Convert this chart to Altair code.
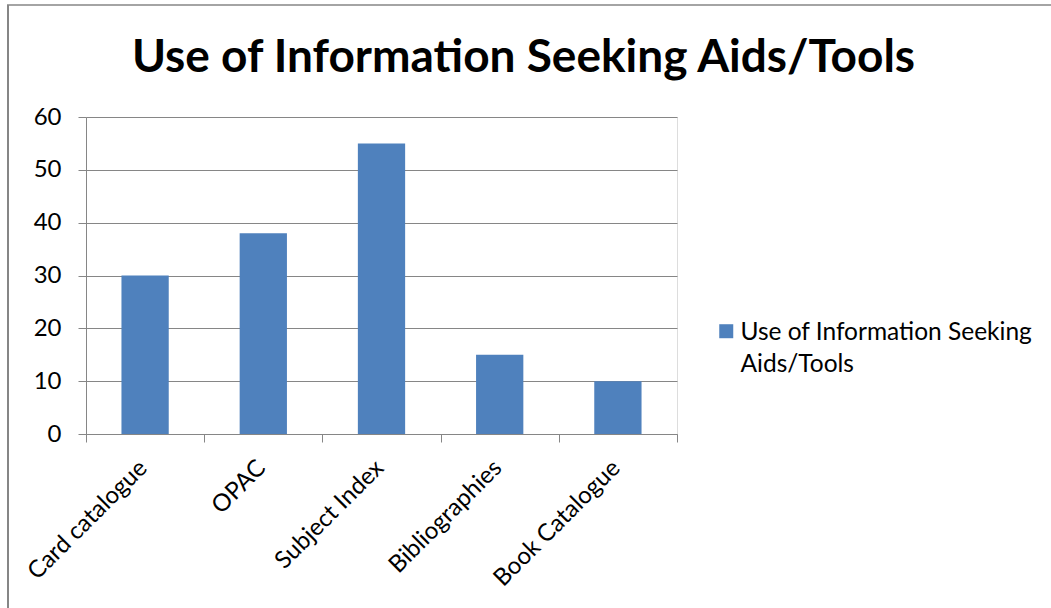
import altair as alt
import pandas as pd

categories = ["Card catalogue", "OPAC", "Subject Index", "Bibliographies", "Book Catalogue"]
values = [30, 38, 55, 15, 10]
series_name = "Use of Information Seeking\nAids/Tools"
y_ticks = [0, 10, 20, 30, 40, 50, 60]

df = pd.DataFrame({"category": categories, "value": values, "series": [series_name] * len(categories)})

FONT = "Lato"
GRAY = "#868686"
FS = 24

bars = alt.Chart(df).mark_bar(color="#4F81BD", width=alt.RelativeBandSize(0.4)).encode(
    x=alt.X("category:N", sort=categories,
            scale=alt.Scale(paddingInner=0, paddingOuter=0),
            axis=alt.Axis(title=None, labelAngle=-45, labelAlign="right", labelBaseline="middle",
                          labelFontSize=FS, labelFont=FONT, labelColor="black",
                          labelPadding=22, labelOffset=-2, tickBand="extent", tickSize=8,
                          tickColor=GRAY, domainColor=GRAY, grid=False, labelLimit=400)),
    y=alt.Y("value:Q", scale=alt.Scale(domain=[0, 60], nice=False),
            axis=alt.Axis(title=None, values=y_ticks, labelFontSize=FS, labelFont=FONT,
                          labelColor="black", labelPadding=17, tickSize=8, tickColor=GRAY,
                          domainColor=GRAY, gridColor=GRAY, grid=True)),
    color=alt.Color("series:N", scale=alt.Scale(range=["#4F81BD"]),
                    legend=alt.Legend(title=None, orient="none", legendX=628, legendY=211,
                                      symbolType="M-1,-2.29H1V-0.29H-1Z", symbolSize=196,
                                      symbolStrokeWidth=0, symbolFillColor="#4F81BD",
                                      labelFont=FONT, labelFontSize=24.5, labelColor="black",
                                      labelExpr="split(datum.label, '\\n')",
                                      labelLimit=500, labelOffset=2, labelBaseline="alphabetic")),
)

border_df = pd.DataFrame({"k": [0]})
top_border = alt.Chart(border_df).mark_rule(color=GRAY, strokeWidth=1.5).encode(
    x=alt.value(-79), x2=alt.value(970), y=alt.value(-112))
left_border = alt.Chart(border_df).mark_rule(color=GRAY, strokeWidth=2).encode(
    x=alt.value(-78), y=alt.value(-112), y2=alt.value(500))

chart = alt.layer(bars, top_border, left_border).properties(
    width=591, height=317,
    title=alt.TitleParams("Use of Information Seeking Aids/Tools", font=FONT, fontSize=46,
                          fontWeight="bold", color="black", anchor="middle", frame="group",
                          dx=142, offset=-114, baseline="alphabetic"),
    autosize=alt.AutoSizeParams(type="none"),
    padding={"left": 86, "top": 117, "right": 374, "bottom": 174},
).configure_view(stroke=None).configure(
    background="white", style={"guide-label": {"lineHeight": 32}})

chart.save("out.html", embed_options={"renderer": "svg", "actions": False})
